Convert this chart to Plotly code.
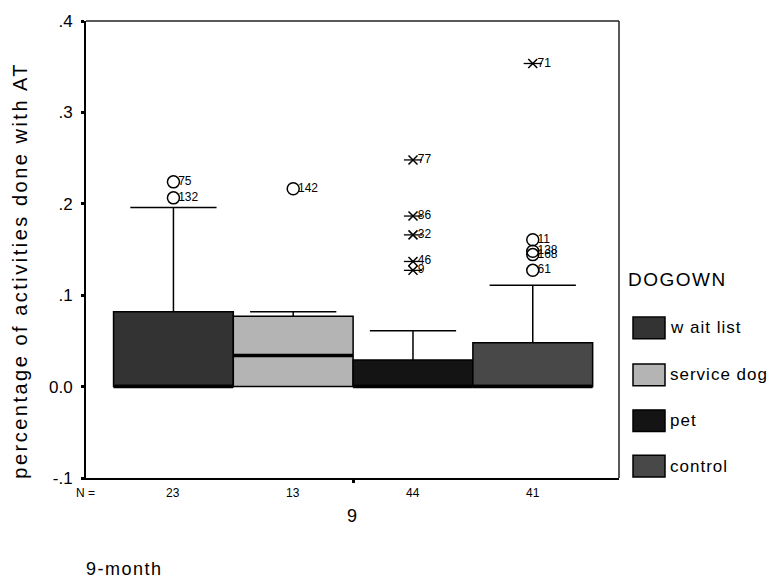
import plotly.graph_objects as go

# ---------------- data ----------------
groups = ["w ait list", "service dog", "pet", "control"]
positions = [1, 2, 3, 4]
n_counts = ["23", "13", "44", "41"]
colors = ["#333333", "#b4b4b4", "#141414", "#484848"]

q1 = [0.0, 0.0, 0.0, 0.0]
medians = [0.0, 0.034, 0.0, 0.0]
q3 = [0.082, 0.077, 0.029, 0.048]
lower_fence = [0.0, 0.0, 0.0, 0.0]
upper_fence = [0.196, 0.082, 0.061, 0.111]

# outliers (circles) and extremes (asterisks): group index, value, case id
out_group = [0, 0, 1, 3, 3, 3, 3]
out_value = [0.224, 0.2065, 0.2165, 0.1607, 0.148, 0.1444, 0.1272]
out_label = ["75", "132", "142", "11", "138", "168", "61"]

ext_group = [2, 2, 2, 2, 2, 3]
ext_value = [0.248, 0.1866, 0.166, 0.1369, 0.1272, 0.3535]
ext_label = ["77", "86", "32", "46", "9", "71"]

FONT = "Arial, Liberation Sans, sans-serif"

# plot-area pixel geometry
L, R, T, B = 86, 619, 15, 478
W, H = 770, 584


def px(xp):
    return (xp - L) / (R - L)


def py(yp):
    return (B - yp) / (B - T)


def spaced(s, sp):
    return '<span style="letter-spacing:%.1fpx">%s</span>' % (sp, s)


fig = go.Figure()

for i in range(len(groups)):
    fig.add_trace(go.Box(
        x=[positions[i]], q1=[q1[i]], median=[medians[i]], q3=[q3[i]],
        lowerfence=[lower_fence[i]], upperfence=[upper_fence[i]],
        width=1.0, whiskerwidth=0.72, fillcolor=colors[i],
        line=dict(color="black", width=1.5), boxpoints=False,
        showlegend=False, hoverinfo="skip"))

# thick median lines
for i in range(len(groups)):
    fig.add_trace(go.Scatter(
        x=[positions[i] - 0.5, positions[i] + 0.5], y=[medians[i], medians[i]],
        mode="lines", line=dict(color="black", width=3.5),
        showlegend=False, hoverinfo="skip"))

# outliers (open circles)
fig.add_trace(go.Scatter(
    x=[positions[g] for g in out_group], y=out_value,
    mode="markers",
    marker=dict(symbol="circle-open", size=12, color="black", line=dict(width=1.5)),
    showlegend=False, hoverinfo="skip"))

# extremes (asterisks: x + horizontal line)
fig.add_trace(go.Scatter(
    x=[positions[g] for g in ext_group], y=ext_value,
    mode="markers",
    marker=dict(symbol="line-ew-open", size=13, color="black", line=dict(width=1.3, color="black")),
    showlegend=False, hoverinfo="skip"))
fig.add_trace(go.Scatter(
    x=[positions[g] for g in ext_group], y=ext_value,
    mode="markers",
    marker=dict(symbol="x-thin-open", size=9, color="black", line=dict(width=1.5, color="black")),
    showlegend=False, hoverinfo="skip"))

# case labels, placed just right of the markers
fig.add_trace(go.Scatter(
    x=[positions[g] for g in out_group] + [positions[g] for g in ext_group],
    y=out_value + ext_value, text=out_label + ext_label,
    mode="markers+text", textposition="middle right",
    marker=dict(size=6, opacity=0),
    textfont=dict(family=FONT, size=12, color="black"),
    showlegend=False, hoverinfo="skip"))

annotations = []
# N counts
annotations.append(dict(x=px(85), y=py(493), xref="paper", yref="paper", text="N =",
                        showarrow=False, font=dict(family=FONT, size=12, color="black"),
                        xanchor="center", yanchor="middle"))
for p, n in zip(positions, n_counts):
    annotations.append(dict(x=p, y=py(493), xref="x", yref="paper", text=n,
                            showarrow=False, font=dict(family=FONT, size=12, color="black"),
                            xanchor="center", yanchor="middle"))
annotations.append(dict(x=px(352), y=py(516), xref="paper", yref="paper", text="9",
                        showarrow=False, font=dict(family=FONT, size=18, color="black"),
                        xanchor="center", yanchor="middle"))
annotations.append(dict(x=px(84), y=py(570), xref="paper", yref="paper", text=spaced("9-month", 1.5),
                        showarrow=False, font=dict(family=FONT, size=18, color="black"),
                        xanchor="left", yanchor="middle"))
# legend
annotations.append(dict(x=px(626), y=py(277), xref="paper", yref="paper", text=spaced("DOGOWN", 1.5),
                        showarrow=False, font=dict(family=FONT, size=19, color="black"),
                        xanchor="left", yanchor="middle"))
shapes = []
leg_y = [326, 373.5, 420, 466]
for g, c, yc in zip(groups, colors, leg_y):
    shapes.append(dict(type="rect", xref="paper", yref="paper",
                       x0=px(633), x1=px(665), y0=py(yc - 11), y1=py(yc + 11),
                       fillcolor=c, line=dict(color="black", width=1.5)))
    annotations.append(dict(x=px(668), y=py(yc), xref="paper", yref="paper", text=spaced(g, 1.0),
                            showarrow=False, font=dict(family=FONT, size=17, color="black"),
                            xanchor="left", yanchor="middle"))

# y axis title
annotations.append(dict(x=px(20), y=py(268), xref="paper", yref="paper",
                        text=spaced("percentage of activities done with AT", 2.5),
                        textangle=-90, showarrow=False,
                        font=dict(family=FONT, size=20, color="black"),
                        xanchor="center", yanchor="middle"))

# top and right frame lines
shapes.append(dict(type="line", xref="paper", yref="paper", x0=0, x1=1, y0=1, y1=1,
                   line=dict(color="#222222", width=1.5)))
shapes.append(dict(type="line", xref="paper", yref="paper", x0=1, x1=1, y0=0, y1=1,
                   line=dict(color="#222222", width=1.5)))

fig.update_layout(
    width=W, height=H,
    margin=dict(l=L, r=W - R, t=T, b=H - B),
    plot_bgcolor="white", paper_bgcolor="white",
    font=dict(family=FONT, color="black"),
    annotations=annotations, shapes=shapes, showlegend=False,
    xaxis=dict(range=[0.27, 4.72], tickvals=[2.5], ticktext=[""],
               ticks="outside", ticklen=3, tickwidth=3, tickcolor="black",
               showline=True, linecolor="black", linewidth=2,
               showgrid=False, zeroline=False, fixedrange=True),
    yaxis=dict(range=[-0.1, 0.4],
               tickvals=[-0.1, 0.0, 0.1, 0.2, 0.3, 0.4],
               ticktext=["-.1", "0.0", ".1", ".2", ".3", ".4"],
               ticks="outside", ticklen=3, tickwidth=3, tickcolor="black",
               tickfont=dict(family=FONT, size=17, color="black"),
               ticklabelstandoff=5,
               showline=True, linecolor="black", linewidth=2,
               showgrid=False, zeroline=False, fixedrange=True),
)

fig.write_html("out.html")
